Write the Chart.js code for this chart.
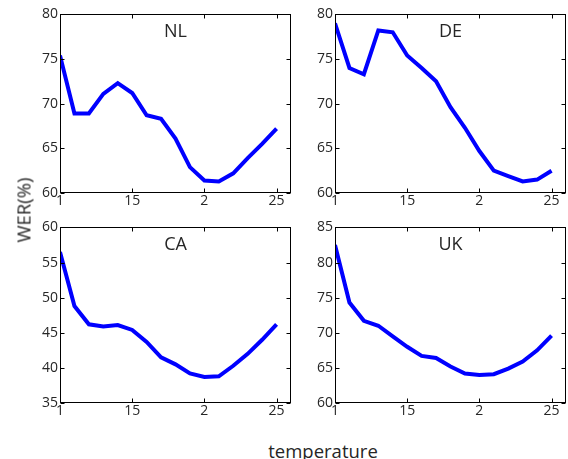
<!DOCTYPE html>
<html>
<head>
<meta charset="utf-8">
<script src="https://cdn.jsdelivr.net/npm/chart.js@4.4.1/dist/chart.umd.min.js"></script>
<style>
  body { margin: 0; background: #fff; width: 568px; height: 459px; position: relative; overflow: hidden; font-family: "Open Sans", sans-serif; }
  canvas { position: absolute; }
  .lbl { position: absolute; color: #262626; font-size: 18.5px; white-space: nowrap; }
</style>
</head>
<body>
<canvas id="nl"></canvas>
<canvas id="de"></canvas>
<canvas id="ca"></canvas>
<canvas id="uk"></canvas>
<div class="lbl" id="ylab" style="left:23px; top:210px; transform: translate(-50%, -50%) rotate(-90deg);">WER(%)</div>
<div class="lbl" id="xlab" style="left:323px; top:450px; transform: translate(-50%, -50%);">temperature</div>
<script>
const temps = [1.0, 1.1, 1.2, 1.3, 1.4, 1.5, 1.6, 1.7, 1.8, 1.9, 2.0, 2.1, 2.2, 2.3, 2.4, 2.5];
const xTickValues = [1, 1.5, 2, 2.5];
const xTickLabels = ['1', '15', '2', '25'];

const werNL = [75.4, 68.9, 68.9, 71.1, 72.3, 71.2, 68.7, 68.3, 66.1, 62.9, 61.4, 61.3, 62.2, 63.9, 65.5, 67.2];
const werDE = [79.0, 74.0, 73.3, 78.2, 78.0, 75.4, 74.0, 72.5, 69.6, 67.3, 64.7, 62.5, 61.9, 61.3, 61.5, 62.5];
const werCA = [56.5, 48.8, 46.2, 45.9, 46.1, 45.4, 43.7, 41.5, 40.5, 39.2, 38.7, 38.8, 40.3, 42.0, 44.0, 46.2];
const werUK = [82.5, 74.3, 71.7, 71.0, 69.5, 68.0, 66.7, 66.4, 65.2, 64.2, 64.0, 64.1, 64.9, 65.9, 67.5, 69.6];

const panels = [
  { id: 'nl', title: 'NL', values: werNL, yMin: 60, yMax: 80, left: 60, top: 14, height: 179 },
  { id: 'de', title: 'DE', values: werDE, yMin: 60, yMax: 80, left: 335, top: 14, height: 179 },
  { id: 'ca', title: 'CA', values: werCA, yMin: 35, yMax: 60, left: 60, top: 227, height: 176 },
  { id: 'uk', title: 'UK', values: werUK, yMin: 60, yMax: 85, left: 335, top: 227, height: 176 }
];

const PLOT_W = 231;
const Y_AXIS_W = 40;
const X_AXIS_H = 24;
const PAD_TOP = 10;
const PAD_RIGHT = 6;
const TICK_LEN = 4;
const textColor = '#262626';

// frame, inside ticks on all four sides and the panel title
const framePlugin = {
  id: 'frame',
  afterDraw(chart, args, opts) {
    const { ctx, chartArea: a, scales } = chart;
    ctx.save();
    ctx.strokeStyle = '#000';
    ctx.lineWidth = 1;
    const l = Math.round(a.left) + 0.5, r = Math.round(a.right) - 0.5;
    const t = Math.round(a.top) + 0.5, b = Math.round(a.bottom) - 0.5;
    ctx.strokeRect(l, t, r - l, b - t);
    ctx.beginPath();
    scales.x.ticks.forEach(tk => {
      const px = Math.round(scales.x.getPixelForValue(tk.value)) + 0.5;
      ctx.moveTo(px, b); ctx.lineTo(px, b - TICK_LEN);
      ctx.moveTo(px, t); ctx.lineTo(px, t + TICK_LEN);
    });
    scales.y.ticks.forEach(tk => {
      const py = Math.round(scales.y.getPixelForValue(tk.value)) + 0.5;
      ctx.moveTo(l, py); ctx.lineTo(l + TICK_LEN, py);
      ctx.moveTo(r, py); ctx.lineTo(r - TICK_LEN, py);
    });
    ctx.stroke();
    ctx.fillStyle = textColor;
    ctx.font = '18px "Open Sans", sans-serif';
    ctx.textAlign = 'center';
    ctx.textBaseline = 'middle';
    ctx.fillText(opts.text, (a.left + a.right) / 2, a.top + 17);
    ctx.restore();
  }
};

function makeChart(p) {
  const canvas = document.getElementById(p.id);
  const w = Y_AXIS_W + PLOT_W + PAD_RIGHT;
  const h = PAD_TOP + p.height + X_AXIS_H;
  canvas.width = w;
  canvas.height = h;
  canvas.style.left = (p.left - Y_AXIS_W) + 'px';
  canvas.style.top = (p.top - PAD_TOP) + 'px';

  const yTicks = [];
  for (let v = p.yMin; v <= p.yMax; v += 5) yTicks.push(v);

  return new Chart(canvas, {
    type: 'line',
    data: {
      datasets: [{
        data: temps.map((t, i) => ({ x: t, y: p.values[i] })),
        borderColor: '#0000ff',
        borderWidth: 4,
        pointRadius: 0,
        tension: 0,
        fill: false
      }]
    },
    options: {
      responsive: false,
      maintainAspectRatio: false,
      animation: false,
      layout: { padding: { top: PAD_TOP, right: PAD_RIGHT, left: 0, bottom: 0 } },
      plugins: {
        legend: { display: false },
        tooltip: { enabled: false },
        frame: { text: p.title }
      },
      scales: {
        x: {
          type: 'linear',
          min: 1,
          max: 2.6,
          grid: { display: false, drawTicks: false, tickLength: 0 },
          border: { display: false },
          afterBuildTicks: s => { s.ticks = xTickValues.map(v => ({ value: v })); },
          afterFit: s => { s.height = X_AXIS_H; },
          ticks: {
            padding: 0,
            maxRotation: 0,
            autoSkip: false,
            color: textColor,
            font: { family: '"Open Sans", sans-serif', size: 14 },
            callback: v => xTickLabels[xTickValues.indexOf(v)]
          }
        },
        y: {
          min: p.yMin,
          max: p.yMax,
          grid: { display: false, drawTicks: false, tickLength: 0 },
          border: { display: false },
          afterBuildTicks: s => { s.ticks = yTicks.map(v => ({ value: v })); },
          afterFit: s => { s.width = Y_AXIS_W; },
          ticks: {
            padding: 2,
            autoSkip: false,
            color: textColor,
            font: { family: '"Open Sans", sans-serif', size: 14 }
          }
        }
      }
    },
    plugins: [framePlugin]
  });
}

panels.forEach(makeChart);
</script>
</body>
</html>
